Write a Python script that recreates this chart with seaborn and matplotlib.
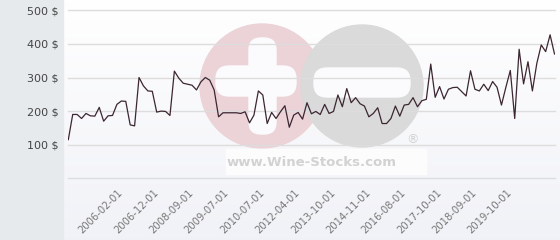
import numpy as np
import pandas as pd
import matplotlib
matplotlib.use("Agg")
import matplotlib.pyplot as plt
from matplotlib.patches import Rectangle, Circle, FancyBboxPatch
import seaborn as sns

# ---- data ----
prices = [115, 190, 190, 178, 193, 186, 185, 211, 170, 186, 187, 220, 230, 229, 159, 156,
          300, 275, 260, 259, 197, 200, 199, 187, 319, 298, 283, 280,
          277, 263, 287, 300, 292, 263, 183, 195, 195, 195, 195, 193, 198, 165, 188, 260,
          248, 163, 196, 178, 198, 216, 152, 188, 196, 176, 225, 192, 199, 190, 220, 193,
          199, 248, 213, 267, 225, 240, 222, 215, 183, 193, 210,
          163, 163, 178, 215, 185, 218, 220, 240, 213, 231, 235, 340, 241, 273, 236, 265,
          270, 271, 258, 245, 320, 265, 260, 280, 261, 288, 271, 218, 271, 321, 178, 384,
          281, 347, 260, 342, 397, 377, 427, 370]
tick_labels = ["2006-02-01", "2006-12-01", "2008-09-01", "2009-07-01", "2010-07-01",
               "2012-04-01", "2013-10-01", "2014-11-01", "2016-08-01", "2017-10-01",
               "2018-09-01", "2019-10-01"]
y_ticks = [100, 200, 300, 400, 500]
y_tick_labels = ["100 $", "200 $", "300 $", "400 $", "500 $"]

first_tick = 12
tick_step = 8

df = pd.DataFrame({"idx": np.arange(len(prices)), "price": prices})

W, H = 560, 240
fig = plt.figure(figsize=(W / 100, H / 100), dpi=100)

# background layer in pixel coordinates
bg = fig.add_axes([0, 0, 1, 1], zorder=0)
bg.set_xlim(0, W)
bg.set_ylim(H, 0)
bg.axis("off")
grad = np.linspace(0, 1, 100).reshape(-1, 1)
top_c = np.array([1.0, 1.0, 1.0])
bot_c = np.array([0.945, 0.949, 0.969])
img = top_c * (1 - grad[..., None]) + bot_c * grad[..., None]
bg.imshow(img, extent=[63, W, H, 0], aspect="auto", zorder=0)
bg.add_patch(Rectangle((0, 0), 63, H, color="#e6eaed", zorder=1))

# watermark
pink = "#ebd3d8"
grey = "#dadada"
white = "#fbfbfd"
bg.add_patch(Circle((262, 86), 62, color=pink, zorder=2))
bg.add_patch(Circle((362, 86), 61, color=grey, zorder=3))
bg.add_patch(FancyBboxPatch((216, 66), 80, 30, boxstyle="round,pad=0,rounding_size=13",
                            color=white, zorder=4))
bg.add_patch(FancyBboxPatch((249, 38), 27, 96, boxstyle="round,pad=0,rounding_size=12",
                            color=white, zorder=4))
bg.add_patch(FancyBboxPatch((314, 68), 96, 29, boxstyle="round,pad=0,rounding_size=13",
                            color=white, zorder=4))
bg.add_patch(Rectangle((226, 149), 200, 25, color="#fcfcfd", zorder=4))
bg.text(312, 162, "www.Wine-Stocks.com", color="#d2d2d2", fontsize=9.5,
        fontweight="bold", ha="center", va="center", zorder=5)
bg.text(412, 140, "®", color="#d2d2d2", fontsize=9, ha="center", va="center", zorder=5)

# main chart
ax = fig.add_axes([68.3 / W, 1 - 178.3 / H, (554.5 - 68.3) / W, (178.3 - 10.3) / H], zorder=1)
ax.set_facecolor("none")
sns.lineplot(data=df, x="idx", y="price", ax=ax, color="#3b2631", linewidth=0.9)
ax.set_xlim(0, len(prices) - 1)
ax.set_ylim(0, 500)
for v in [0] + y_ticks:
    ax.axhline(v, color="#dddddd", linewidth=1, zorder=0, clip_on=False)
for s in ax.spines.values():
    s.set_visible(False)
ax.set_yticks(y_ticks)
ax.set_yticklabels(y_tick_labels, fontsize=8, color="#444444")
ax.tick_params(axis="y", length=0, pad=7)
xt = [first_tick + tick_step * k for k in range(len(tick_labels))]
ax.set_xticks(xt)
ax.set_xticklabels(tick_labels, rotation=45, ha="right", va="center",
                   rotation_mode="anchor", fontsize=7.2, color="#777777")
ax.tick_params(axis="x", length=0, pad=9)
ax.set_xlabel("")
ax.set_ylabel("")

fig.savefig("out.png", dpi=100)
